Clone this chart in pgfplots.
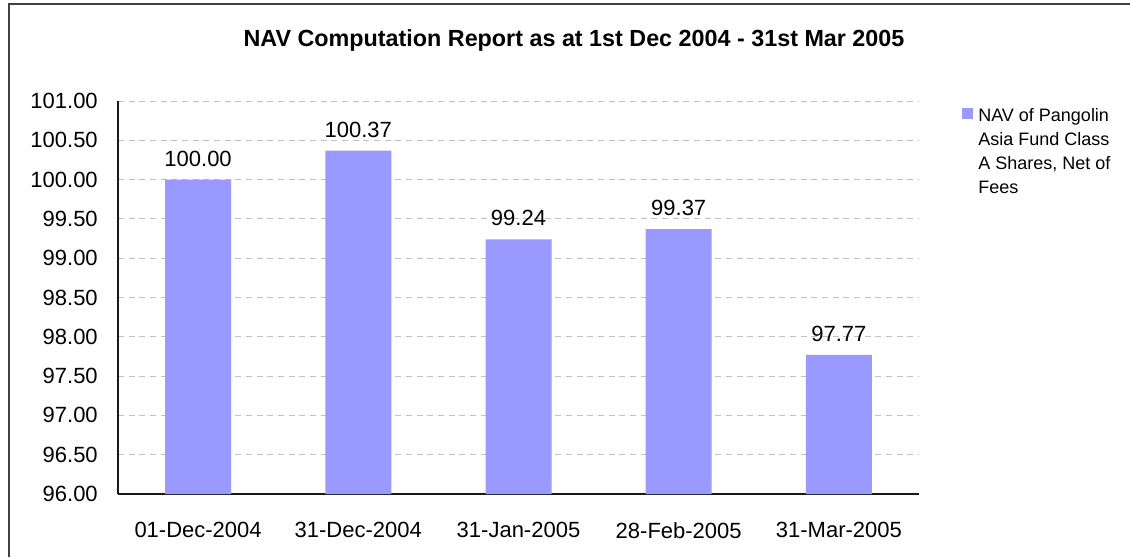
\documentclass[border=0pt]{standalone}
\usepackage{fontspec}
\setmainfont{Liberation Sans}
\usepackage{pgfplots}
\pgfplotsset{compat=1.18}
\definecolor{barc}{HTML}{9999FF}
\definecolor{gridc}{HTML}{C0C0C0}
\definecolor{framec}{HTML}{404040}
\begin{document}
\begin{tikzpicture}
\useasboundingbox (0,0) rectangle (847.5pt,417.75pt);
\draw[framec, line width=1.5pt] (6.75pt,0) -- (6.75pt,414.75pt) -- (847.5pt,414.75pt);
\node[font=\fontsize{17.5}{20}\selectfont\bfseries] at (430.5pt,387.75pt) {NAV Computation Report as at 1st Dec 2004 - 31st Mar 2005};
\begin{axis}[
  at={(88.5pt,47.25pt)}, anchor=south west, scale only axis,
  width=600.75pt, height=294.75pt,
  xmin=-0.5, xmax=4.5, ymin=96, ymax=101,
  ytick={96,96.5,97,97.5,98,98.5,99,99.5,100,100.5,101},
  xtick={0,1,2,3,4},
  xticklabels={01-Dec-2004,31-Dec-2004,31-Jan-2005,28-Feb-2005,31-Mar-2005},
  axis x line*=bottom, axis y line*=left,
  axis line style={line width=1.1pt, black!90},
  major tick length=0pt,
  ymajorgrids,
  grid style={gridc, dash pattern=on 4.5pt off 3.5pt, line width=0.75pt},
  yticklabel style={/pgf/number format/fixed, /pgf/number format/fixed zerofill, /pgf/number format/precision=2, /pgf/number format/assume math mode=true},
  y tick label style={font=\fontsize{16.5}{19}\selectfont, anchor=east, inner sep=0pt, xshift=-15pt},
  x tick label style={font=\fontsize{16.5}{19}\selectfont, anchor=north, inner sep=0pt, yshift=-21pt},
  ybar, bar width=49.5pt,
  nodes near coords={\pgfmathprintnumber[fixed,fixed zerofill,precision=2,assume math mode=true]{\pgfplotspointmeta}},
  nodes near coords style={font=\fontsize{16.5}{19}\selectfont, anchor=south, inner sep=0pt, yshift=9.75pt},
  legend style={at={(rel axis cs:1.0537,0.982)}, anchor=north west, draw=none, fill=none, inner sep=0pt,
    font=\fontsize{13.5}{18}\selectfont, column sep=3.75pt,
    nodes={inner sep=0pt}, cells={anchor=north west, align=left}},
]
\addplot[fill=barc, draw=none,
  legend image code/.code={\fill[barc] (0pt,-8.25pt) rectangle (8.25pt,0pt);}]
  coordinates {(0,100.00) (1,100.37) (2,99.24) (3,99.37) (4,97.77)};
\addlegendentry{NAV of Pangolin\\Asia Fund Class\\A Shares, Net of\\Fees}
\end{axis}
\end{tikzpicture}
\end{document}
